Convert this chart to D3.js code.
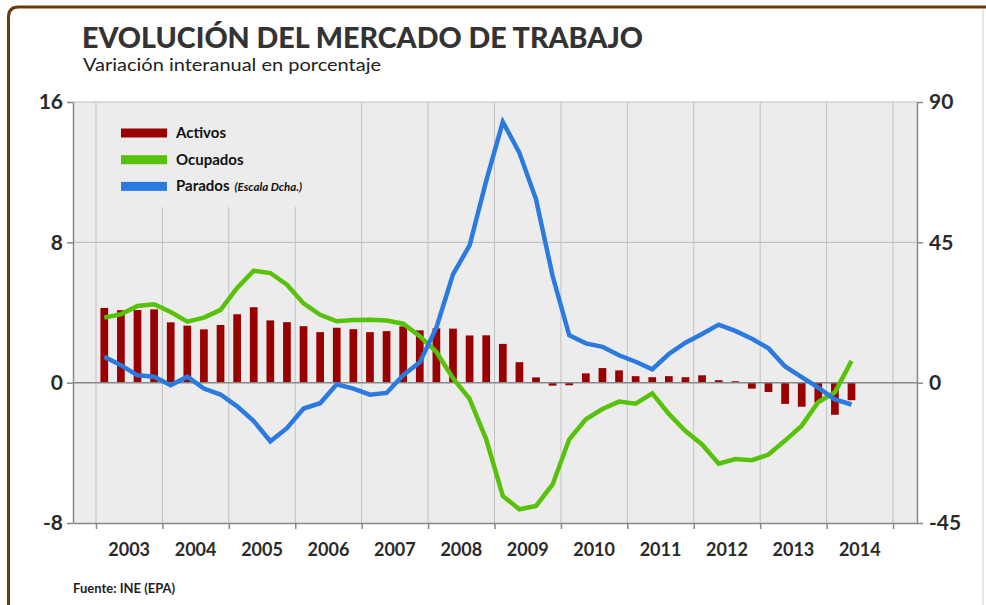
<!DOCTYPE html>
<html>
<head>
<meta charset="utf-8">
<script src="https://cdn.jsdelivr.net/npm/d3@7/dist/d3.min.js"></script>
<style>
	body { margin: 0; background: #fff; }
	svg { display: block; font-family: Lato, "Open Sans", sans-serif; }
</style>
</head>
<body>
<svg id="chart" width="986" height="605"></svg>
<script>
const quarters = [
	"2003-T1", "2003-T2", "2003-T3", "2003-T4",
	"2004-T1", "2004-T2", "2004-T3", "2004-T4",
	"2005-T1", "2005-T2", "2005-T3", "2005-T4",
	"2006-T1", "2006-T2", "2006-T3", "2006-T4",
	"2007-T1", "2007-T2", "2007-T3", "2007-T4",
	"2008-T1", "2008-T2", "2008-T3", "2008-T4",
	"2009-T1", "2009-T2", "2009-T3", "2009-T4",
	"2010-T1", "2010-T2", "2010-T3", "2010-T4",
	"2011-T1", "2011-T2", "2011-T3", "2011-T4",
	"2012-T1", "2012-T2", "2012-T3", "2012-T4",
	"2013-T1", "2013-T2", "2013-T3", "2013-T4",
	"2014-T1", "2014-T2"
];

// variación interanual, %
const activos = [4.26, 4.13, 4.14, 4.18, 3.44, 3.25, 3.04, 3.29, 3.90, 4.30, 3.55, 3.45,
	3.22, 2.88, 3.13, 3.05, 2.88, 2.94, 3.21, 2.98, 3.10, 3.08, 2.69, 2.70, 2.21, 1.17,
	0.30, -0.17, -0.15, 0.53, 0.83, 0.70, 0.37, 0.31, 0.37, 0.31, 0.42, 0.14, 0.08,
	-0.34, -0.53, -1.21, -1.37, -1.14, -1.83, -1.00];
const ocupados = [3.71, 3.90, 4.37, 4.47, 4.03, 3.48, 3.71, 4.15, 5.40, 6.38, 6.25, 5.58,
	4.52, 3.87, 3.50, 3.57, 3.58, 3.54, 3.36, 2.65, 1.75, 0.25, -0.92, -3.23, -6.46, -7.22,
	-7.03, -5.80, -3.23, -2.09, -1.50, -1.08, -1.20, -0.61, -1.78, -2.76, -3.52, -4.62,
	-4.35, -4.42, -4.10, -3.30, -2.45, -1.10, -0.55, 1.24];
// escala derecha
const parados = [8.3, 5.6, 2.35, 1.9, -0.85, 1.9, -1.9, -3.8, -7.6, -12.3, -18.8, -14.6,
	-8.3, -6.6, -0.5, -1.9, -3.85, -3.3, 2.4, 6.5, 17.6, 34.7, 44.0, 64.7, 83.6, 73.7,
	58.8, 34.2, 15.2, 12.6, 11.5, 8.8, 6.7, 4.3, 9.2, 12.8, 15.6, 18.6, 16.6, 14.1,
	11.0, 5.2, 1.8, -1.6, -5.4, -7.0];

const years = [2003, 2004, 2005, 2006, 2007, 2008, 2009, 2010, 2011, 2012, 2013, 2014];
const yearEdges = [2003, 2004, 2005, 2006, 2007, 2008, 2009, 2010, 2011, 2012, 2013, 2014, 2015];
const leftTicks = [-8, 0, 8, 16];
const rightTicks = [-45, 0, 45, 90];

const legendItems = [
	{ label: "Activos", color: "#990000" },
	{ label: "Ocupados", color: "#58c20a" },
	{ label: "Parados", note: "(Escala Dcha.)", color: "#2b7ae0" }
];

const svg = d3.select("#chart");
const plot = { left: 73, right: 917, top: 102, bottom: 523 };

// quarter label -> fractional year at the middle of the quarter
const qPos = (q) => {
	const [y, t] = q.split("-T");
	return +y + (+t - 0.5) / 4;
};

const x = d3.scaleLinear().domain([2002.654, 2015.361]).range([plot.left, plot.right]);
const yL = d3.scaleLinear().domain([-8, 16]).range([plot.bottom, plot.top]);
const yR = d3.scaleLinear().domain([-45, 90]).range([plot.bottom, plot.top]);

// frame
svg.append("path")
	.attr("d", "M8.5,610 L8.5,17 Q8.5,7 18.5,7 L986,7")
	.attr("fill", "none")
	.attr("stroke", "#6b3a10")
	.attr("stroke-width", 3);
svg.append("line")
	.attr("x1", 983).attr("x2", 983).attr("y1", 9).attr("y2", 605)
	.attr("stroke", "#dcdcdc").attr("stroke-width", 1.5);

// title
svg.append("text")
	.attr("x", 82).attr("y", 47.5)
	.attr("textLength", 561).attr("lengthAdjust", "spacingAndGlyphs")
	.attr("font-size", 27.5).attr("font-weight", 900).attr("fill", "#333")
	.text("EVOLUCIÓN DEL MERCADO DE TRABAJO");
svg.append("text")
	.attr("x", 83).attr("y", 71.3)
	.attr("textLength", 298).attr("lengthAdjust", "spacingAndGlyphs")
	.attr("font-size", 18).attr("fill", "#222")
	.text("Variación interanual en porcentaje");

// plot background
svg.append("rect")
	.attr("x", plot.left).attr("y", plot.top)
	.attr("width", plot.right - plot.left).attr("height", plot.bottom - plot.top)
	.attr("fill", "#ececec");

// grid
svg.append("g").selectAll("line")
	.data(yearEdges)
	.join("line")
	.attr("x1", (d) => x(d)).attr("x2", (d) => x(d))
	.attr("y1", plot.top).attr("y2", plot.bottom)
	.attr("stroke", "#c2c2c2").attr("stroke-width", 1);
svg.append("g").selectAll("line")
	.data([8, 16])
	.join("line")
	.attr("x1", plot.left).attr("x2", plot.right)
	.attr("y1", (d) => yL(d)).attr("y2", (d) => yL(d))
	.attr("stroke", "#c2c2c2").attr("stroke-width", 1.2);

// legend box hides the grid behind it
const legend = svg.append("g");
legend.append("rect")
	.attr("x", 98).attr("y", 103).attr("width", 256).attr("height", 104)
	.attr("fill", "#ececec");
legendItems.forEach((d, i) => {
	const cy = 133 + i * 26.7;
	legend.append("rect")
		.attr("x", 121).attr("y", cy - 4.5).attr("width", 46).attr("height", 9)
		.attr("fill", d.color);
	const t = legend.append("text")
		.attr("x", 176).attr("y", cy + 5)
		.attr("font-size", 15).attr("font-weight", 700).attr("fill", "#111")
		.text(d.label);
	if (d.note) {
		t.append("tspan")
			.attr("dx", 5).attr("font-size", 11.5).attr("font-style", "italic")
			.text(d.note);
	}
});

// bars
const barW = x(2003.116) - x(2003);
svg.append("g").selectAll("rect")
	.data(activos)
	.join("rect")
	.attr("x", (d, i) => x(qPos(quarters[i])) - barW / 2)
	.attr("y", (d) => yL(Math.max(0, d)))
	.attr("width", barW)
	.attr("height", (d) => Math.abs(yL(d) - yL(0)))
	.attr("fill", "#990000");

// zero line
svg.append("line")
	.attr("x1", plot.left).attr("x2", plot.right)
	.attr("y1", yL(0)).attr("y2", yL(0))
	.attr("stroke", "#888").attr("stroke-width", 1.5);

// lines
const lineL = d3.line().x((d, i) => x(qPos(quarters[i]))).y((d) => yL(d));
const lineR = d3.line().x((d, i) => x(qPos(quarters[i]))).y((d) => yR(d));
svg.append("path")
	.datum(ocupados)
	.attr("d", lineL)
	.attr("fill", "none").attr("stroke", "#58c20a")
	.attr("stroke-width", 4.5).attr("stroke-linejoin", "miter");
svg.append("path")
	.datum(parados)
	.attr("d", lineR)
	.attr("fill", "none").attr("stroke", "#2b7ae0")
	.attr("stroke-width", 4.5).attr("stroke-linejoin", "miter");

// axes
const styleAxis = (g) => {
	g.select(".domain").attr("stroke", "#888").attr("stroke-width", 1.5);
	g.selectAll(".tick line").attr("stroke", "#888").attr("stroke-width", 1.5);
	g.selectAll(".tick text")
		.attr("font-family", "Lato, sans-serif")
		.attr("font-size", 21).attr("font-weight", 700).attr("fill", "#2a2a2a");
};

svg.append("g")
	.attr("transform", `translate(${plot.left},0)`)
	.call(d3.axisLeft(yL).tickValues(leftTicks).tickFormat((d) => String(d))
		.tickSize(6).tickPadding(4).tickSizeOuter(0))
	.call(styleAxis);
svg.append("g")
	.attr("transform", `translate(${plot.right},0)`)
	.call(d3.axisRight(yR).tickValues(rightTicks).tickFormat((d) => String(d))
		.tickSize(6).tickPadding(6).tickSizeOuter(0))
	.call(styleAxis);
svg.append("g")
	.attr("transform", `translate(0,${plot.bottom})`)
	.call(d3.axisBottom(x).tickValues(yearEdges).tickSize(6).tickFormat("").tickSizeOuter(0))
	.call(styleAxis);

// year labels in the middle of each year
svg.append("g").selectAll("text")
	.data(years)
	.join("text")
	.attr("x", (d) => x(d + 0.5))
	.attr("y", 556)
	.attr("text-anchor", "middle")
	.attr("font-size", 18).attr("font-weight", 700).attr("fill", "#2a2a2a")
	.text((d) => d);

// source
svg.append("text")
	.attr("x", 73).attr("y", 593)
	.attr("font-size", 13).attr("font-weight", 700).attr("fill", "#222")
	.text("Fuente: INE (EPA)");
</script>
</body>
</html>
